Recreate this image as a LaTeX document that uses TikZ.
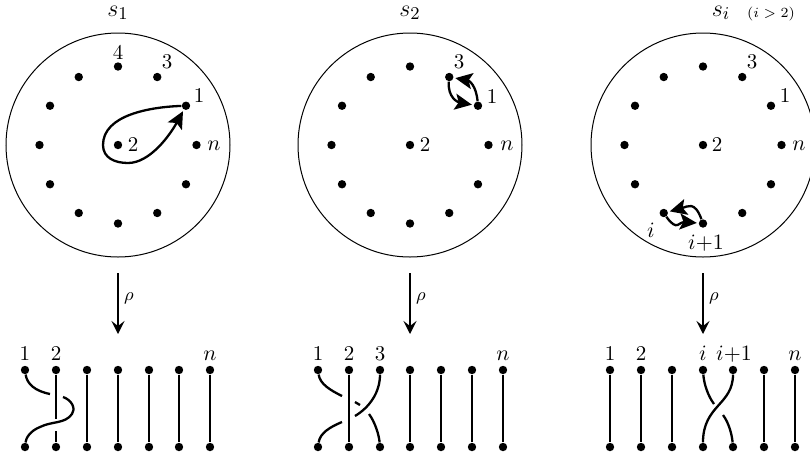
\documentclass[tikz,border=0pt]{standalone}
\usepackage{amsmath}
\usetikzlibrary{arrows.meta, positioning}

\begin{document}
\begin{tikzpicture}[
  x=0.5pt, y=-0.5pt,
  dotnode/.style={circle, fill=black, inner sep=0pt, minimum size=4.2pt},
  lab/.style={inner sep=0pt, font=\fontsize{10.5}{13}\selectfont},
  ttl/.style={inner sep=0pt, font=\fontsize{13}{15}\selectfont},
  strand/.style={line width=1.15pt},
  rhoarrow/.style={-{Stealth[length=6.5pt,width=6.5pt,inset=2.5pt]}, line width=1.15pt},
  looparrow/.style={-{Stealth[length=8.5pt,width=8pt,inset=1.8pt]}, line width=1.15pt, shorten >=0.8pt}
]

\clip (0,0) rectangle (810,457);
\useasboundingbox (0,0) rectangle (810,457);

% The discs
\foreach \cx/\nm in {118/a, 410/b, 703/c} {
  \draw[line width=0.5pt] (\cx,145) circle (56pt);
  \node[dotnode] (\nm cen) at (\cx,145) {};
  \foreach \k in {0,...,11}
    \node[dotnode] (\nm\k) at ({\cx+78.5*cos(\k*30)},{145-78.5*sin(\k*30)}) {};
}

% The strands
\foreach \x/\nm [count=\k] in {25/p1, 56/p2, 87/p3, 118/p4, 149/p5, 179/p6, 210/p7,
                               318/q1, 349/q2, 380/q3, 410/q4, 441/q5, 472/q6, 503/q7,
                               610/r1, 641/r2, 672/r3, 703/r4, 733/r5, 764/r6, 795/r7} {
  \node[dotnode] (\nm t) at (\x,370) {};
  \node[dotnode] (\nm b) at (\x,447) {};
}
\foreach \nm in {p3,p4,p5,p6,p7,q2,q4,q5,q6,q7,r1,r2,r3,r6,r7}
  \draw[strand] (\nm t) -- (\nm b);

% Titles
\node[ttl] (ttla) at (118,13) {$s_1$};
\node[ttl] (ttlb) at (410,13) {$s_2$};
\node[ttl] (ttlc) at (721,13) {$s_i$};
\node[lab, font=\scriptsize] (cond) at (771,14) {$(i>2)$};

% Disc labels
\node[lab] at (118,52) {4};
\node[lab] at (167,62) {3};
\node[lab] at (199,95) {1};
\node[lab] at (133,144) {2};
\node[lab] at (214,146) {$n$};
\node[lab] at (459,62) {3};
\node[lab] at (492,96) {1};
\node[lab] at (425,144) {2};
\node[lab] at (507,146) {$n$};
\node[lab] at (752,62) {3};
\node[lab] at (785,95) {1};
\node[lab] at (717,144) {2};
\node[lab] at (799,146) {$n$};
\node[lab] at (651,230) {$i$};
\node[lab] at (706,243) {$i{+}1$};

% Strand labels
\foreach \x/\t in {25/1, 56/2, 210/$n$, 318/1, 349/2, 380/3, 503/$n$,
                   610/1, 641/2, 703/$i$, 734/$i{+}1$, 795/$n$}
  \node[lab, anchor=base] at (\x,360) {\t};

% The maps
\foreach \nm/\x in {a/118, b/410, c/703} {
  \coordinate (\nm from) at (\x,273);
  \coordinate (\nm to) at (\x,334);
  \draw[rhoarrow] (\nm from) -- (\nm to);
  \node[lab, font=\fontsize{9}{11}\selectfont] at (\x+11,298) {$\rho$};
}

% The loops
\draw[looparrow] (a1) .. controls (150,107) and (103,115) .. (103,145)
  .. controls (103,158) and (115,163) .. (128,163)
  .. controls (150,163) and (170,135) .. (a1);
\draw[looparrow] (b2) to[out=-95, in=170, looseness=1.2] (b1);
\draw[looparrow] (b1) to[out=95, in=-10, looseness=1.2] (b2);
\draw[looparrow] (c8) to[out=-55, in=175, looseness=1.5] (c9);
\draw[looparrow] (c9) to[out=110, in=15, looseness=1.5] (c8);

% s_1 crossing
\coordinate (pa) at (50,394);
\coordinate (pc) at (63,397);
\coordinate (pd) at (56,419);
\coordinate (pe) at (56,431);
\draw[strand] (p1t) .. controls (27,384) and (35,391) .. (pa);
\draw[strand] (pc) .. controls (72,400) and (76,409) .. (72,414)
  .. controls (65,424) and (52,421) .. (40,427)
  .. controls (30,431) and (26,438) .. (p1b);
\draw[strand] (p2t) -- (pd);
\draw[strand] (pe) -- (p2b);

% s_2 crossing
\coordinate (qa) at (342,396);
\coordinate (qc) at (342,422);
\coordinate (qd) at (355,416);
\coordinate (qe) at (355,402);
\coordinate (qf) at (360,405);
\coordinate (qg) at (369,414);
\draw[strand] (q1t) .. controls (320,384) and (330,390) .. (qa);
\draw[strand] (q1b) .. controls (320,433) and (330,427) .. (qc);
\draw[strand] (q3t) .. controls (380,392) and (370,407) .. (qd);
\draw[strand] (qe) -- (qf);
\draw[strand] (qg) .. controls (375,422) and (379,435) .. (q3b);

% s_i crossing
\coordinate (ra) at (714,404);
\coordinate (rc) at (723,415);
\draw[strand] (r4t) .. controls (704,384) and (708,396) .. (ra);
\draw[strand] (r5t) .. controls (733,405) and (703,405) .. (r4b);
\draw[strand] (rc) .. controls (729,423) and (732,435) .. (r5b);

\end{tikzpicture}
\end{document}
